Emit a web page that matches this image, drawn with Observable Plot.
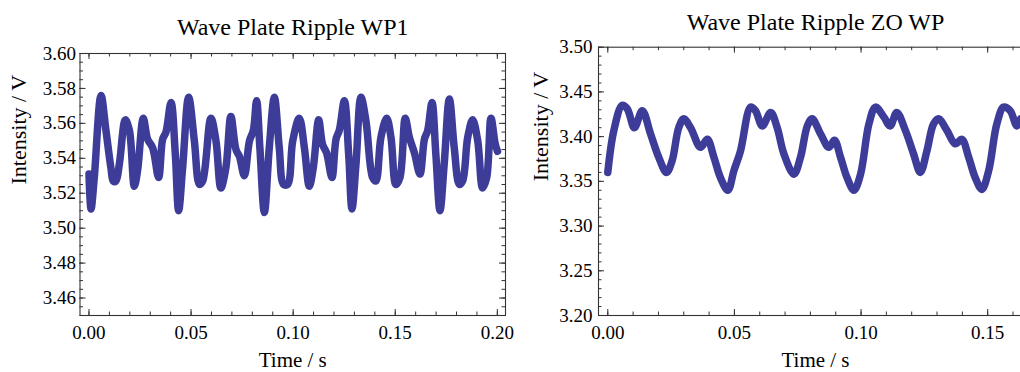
<!DOCTYPE html>
<html><head><meta charset="utf-8">
<script src="https://cdn.jsdelivr.net/npm/d3@7"></script>
<script src="https://cdn.jsdelivr.net/npm/@observablehq/plot@0.6"></script>
<style>
html,body{margin:0;padding:0;background:#fff;}
#wrap{position:relative;width:1020px;height:372px;overflow:hidden;background:#fff;}
#wrap svg{position:absolute;top:0;}
</style></head><body><div id="wrap"></div>
<script>
// ---- Panel 1: Wave Plate Ripple WP1 ----
const wp1Title = "Wave Plate Ripple WP1";
const wp1Time = [0,0.0010,0.0026,0.0059,0.0083,0.0108,0.0119,0.0132,0.0149,0.0178,
  0.0198,0.0222,0.0238,0.0266,0.0287,0.0312,0.0341,0.0361,0.0377,0.0402,
  0.0423,0.0439,0.0459,0.0488,0.0516,0.0541,0.0557,0.0597,0.0622,0.0646,
  0.0671,0.0695,0.0720,0.0737,0.0761,0.0786,0.0805,0.0821,0.0837,0.0859,
  0.0883,0.0908,0.0932,0.0953,0.0973,0.0998,0.1030,0.1055,0.1079,0.1099,
  0.1125,0.1144,0.1164,0.1190,0.1210,0.1226,0.1251,0.1272,0.1288,0.1308,
  0.1332,0.1357,0.1389,0.1405,0.1430,0.1458,0.1479,0.1503,0.1523,0.1549,
  0.1569,0.1594,0.1621,0.1643,0.1659,0.1680,0.1699,0.1719,0.1740,0.1765,
  0.1789,0.1814,0.1830,0.1855,0.1879,0.1904,0.1928,0.1948,0.1969,0.1990,
  0.2001];
const wp1Intensity = [3.531,3.511,3.529,3.576,3.556,3.534,3.527,3.527,3.537,3.562,
  3.556,3.524,3.533,3.563,3.551,3.546,3.529,3.551,3.555,3.572,
  3.542,3.510,3.535,3.575,3.550,3.525,3.527,3.563,3.550,3.523,
  3.535,3.564,3.545,3.541,3.530,3.550,3.556,3.573,3.546,3.509,
  3.546,3.575,3.546,3.525,3.525,3.550,3.563,3.546,3.524,3.535,
  3.562,3.548,3.543,3.529,3.551,3.556,3.573,3.542,3.511,3.537,
  3.575,3.561,3.529,3.527,3.552,3.563,3.552,3.525,3.529,3.563,
  3.552,3.543,3.531,3.551,3.556,3.572,3.542,3.510,3.537,3.574,
  3.546,3.525,3.527,3.552,3.562,3.550,3.523,3.529,3.563,3.548,
  3.544];
const wp1XTicks = [0.00, 0.05, 0.10, 0.15, 0.20];
const wp1YTicks = [3.46, 3.48, 3.50, 3.52, 3.54, 3.56, 3.58, 3.60];

// ---- Panel 2: Wave Plate Ripple ZO WP ----
const zoTitle = "Wave Plate Ripple ZO WP";
const zoTime = [0,0.0024,0.0057,0.0077,0.0105,0.0136,0.0169,0.0201,0.0232,0.0254,
  0.0280,0.0300,0.0327,0.0366,0.0393,0.0419,0.0445,0.0474,0.0498,0.0524,
  0.0564,0.0583,0.0610,0.0643,0.0669,0.0695,0.0735,0.0761,0.0788,0.0807,
  0.0840,0.0873,0.0895,0.0919,0.0945,0.0972,0.0998,0.1031,0.1057,0.1090,
  0.1115,0.1141,0.1175,0.1207,0.1234,0.1260,0.1286,0.1306,0.1339,0.1372,
  0.1398,0.1425,0.1451,0.1477,0.1504,0.1536,0.1563,0.1589,0.1615,0.1630];
const zoIntensity = [3.360,3.407,3.435,3.431,3.410,3.429,3.403,3.377,3.360,3.373,
  3.410,3.420,3.410,3.388,3.397,3.377,3.354,3.340,3.362,3.384,
  3.433,3.429,3.412,3.427,3.410,3.381,3.358,3.377,3.412,3.420,
  3.403,3.388,3.396,3.377,3.354,3.340,3.358,3.414,3.433,3.422,
  3.412,3.427,3.407,3.381,3.360,3.384,3.414,3.420,3.407,3.392,
  3.397,3.377,3.354,3.341,3.362,3.414,3.433,3.429,3.412,3.420];
const zoXTicks = [0.00, 0.05, 0.10, 0.15];
const zoYTicks = [3.20, 3.25, 3.30, 3.35, 3.40, 3.45, 3.50];

const xLabel = "Time / s";
const yLabel = "Intensity / V";
const lineColor = "#3d3d99";
const frameColor = "#333";

function panel(cfg) {
  const data = cfg.time.map((t, i) => ({t, v: cfg.values[i]}));
  const W = 520, H = 372;
  const fw = W - cfg.ml - cfg.mr, fh = H - cfg.mt - cfg.mb;
  const [x0, x1] = cfg.xDomain, [y0, y1] = cfg.yDomain;
  const inX = d => d >= x0 - 1e-9 && d <= x1 + 1e-9;
  const inY = d => d >= y0 - 1e-9 && d <= y1 + 1e-9;
  const xMinor = d3.range(0, 0.2001, cfg.xMinorStep).map(d => +d.toFixed(4)).filter(inX);
  const yMinor = d3.range(y0, y1 + 1e-9, cfg.yMinorStep).map(d => +d.toFixed(4)).filter(inY);
  const big = 6, small = 3.5;
  const svg = Plot.plot({
    width: W, height: H,
    marginLeft: cfg.ml, marginRight: cfg.mr, marginTop: cfg.mt, marginBottom: cfg.mb,
    x: {domain: cfg.xDomain},
    y: {domain: cfg.yDomain},
    style: {fontFamily: "'Liberation Serif', 'Times New Roman', serif", fontSize: "19px", color: "#000", background: "transparent", overflow: "visible"},
    marks: [
      Plot.line(data, {x: "t", y: "v", stroke: lineColor, strokeWidth: 7.5, curve: "catmull-rom", clip: true, strokeLinejoin: "round", strokeLinecap: "round"}),
      Plot.frame({stroke: frameColor, strokeWidth: 1.1}),
      Plot.ruleX(cfg.xTicks, {x: d => d, insetTop: fh - big, stroke: frameColor}),
      Plot.ruleX(cfg.xTicks, {x: d => d, insetBottom: fh - big, stroke: frameColor}),
      Plot.ruleX(xMinor, {x: d => d, insetTop: fh - small, stroke: frameColor}),
      Plot.ruleX(xMinor, {x: d => d, insetBottom: fh - small, stroke: frameColor}),
      Plot.ruleY(cfg.yTicks, {y: d => d, insetRight: fw - big, stroke: frameColor}),
      Plot.ruleY(cfg.yTicks, {y: d => d, insetLeft: fw - big, stroke: frameColor}),
      Plot.ruleY(yMinor, {y: d => d, insetRight: fw - small, stroke: frameColor}),
      Plot.ruleY(yMinor, {y: d => d, insetLeft: fw - small, stroke: frameColor}),
      Plot.axisX(cfg.xTicks, {tickSize: 0, tickPadding: 10, tickFormat: d3.format(".2f"), label: null}),
      Plot.axisY(cfg.yTicks, {anchor: "left", tickSize: 0, tickPadding: cfg.yPad, tickFormat: d3.format(".2f"), label: null}),
      Plot.text([cfg.title], {text: d => d, frameAnchor: "top", lineAnchor: "middle", dy: cfg.titleDy, fontSize: 24}),
      Plot.text([xLabel], {text: d => d, frameAnchor: "bottom", lineAnchor: "middle", dy: 45, fontSize: 21}),
      Plot.text([yLabel], {text: d => d, frameAnchor: "left", lineAnchor: "middle", dx: cfg.yLabelDx, rotate: -90, fontSize: 22})
    ]
  });
  svg.style.left = cfg.left + "px";
  document.getElementById("wrap").appendChild(svg);
}

panel({title: wp1Title, time: wp1Time, values: wp1Intensity, xTicks: wp1XTicks, yTicks: wp1YTicks,
  xDomain: [-0.0044, 0.2040], yDomain: [3.45, 3.60], xMinorStep: 0.01, yMinorStep: 0.005,
  left: 0, ml: 79.5, mr: 15, mt: 53, mb: 57, yPad: 4, titleDy: -26, yLabelDx: -61});
panel({title: zoTitle, time: zoTime, values: zoIntensity, xTicks: zoXTicks, yTicks: zoYTicks,
  xDomain: [-0.00367, 0.1677], yDomain: [3.20, 3.50], xMinorStep: 0.01, yMinorStep: 0.01,
  left: 520, ml: 78, mr: 8, mt: 46.7, mb: 57, yPad: 6, titleDy: -25, yLabelDx: -58});
</script>
</body></html>
